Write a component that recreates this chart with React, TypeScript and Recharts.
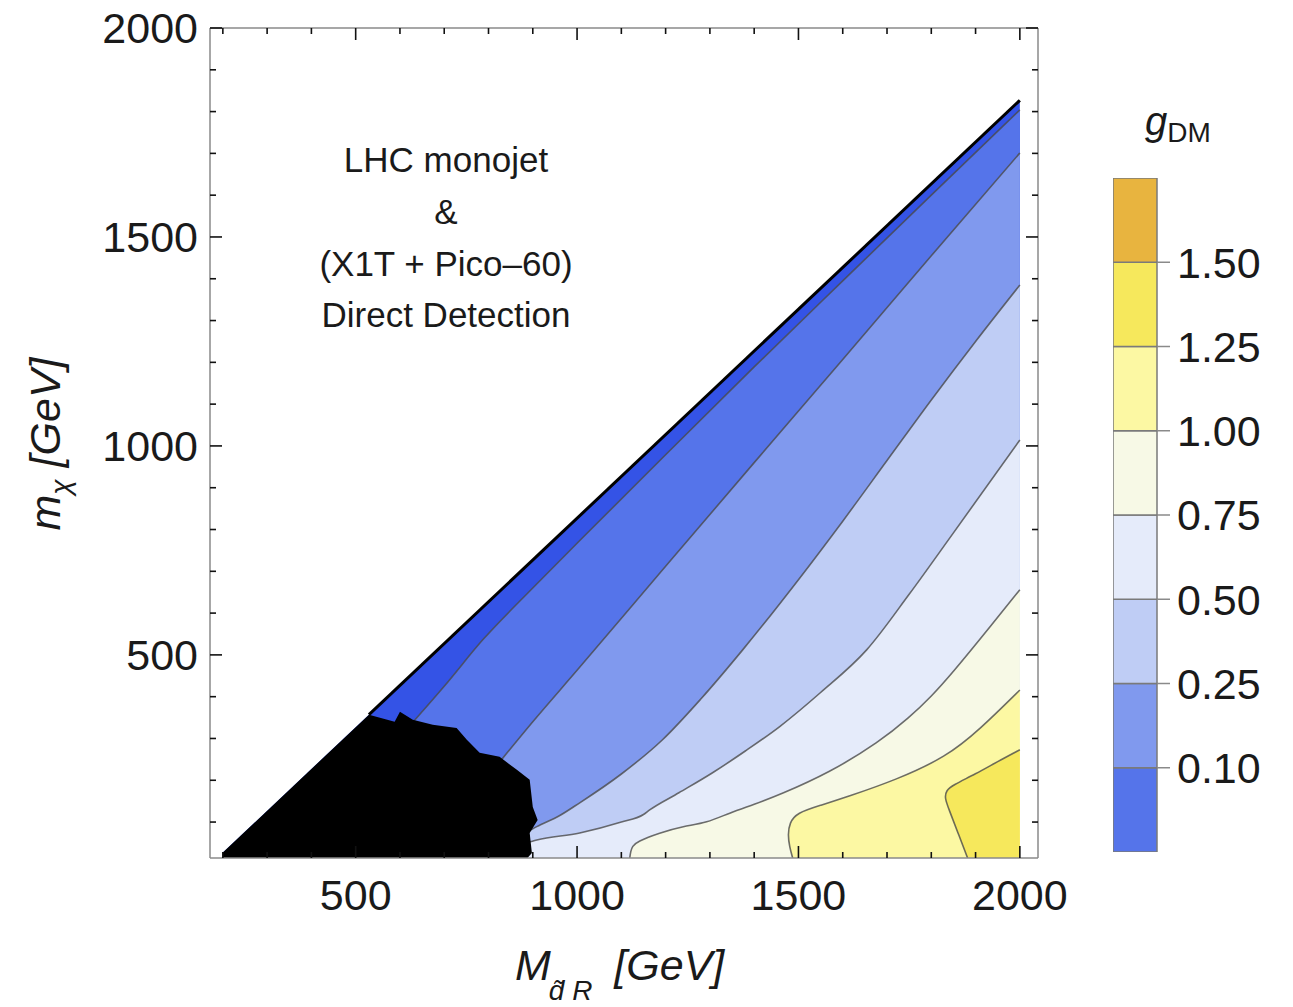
import React from "react";
import { ComposedChart, Area, Line, XAxis, YAxis, BarChart, Bar } from "recharts";

const FONT = "'Liberation Sans', Arial, Helvetica, sans-serif";

// x = M_dR [GeV], y = m_chi [GeV]; each contour as [M, m] pairs
const diagonal = [[200, 27], [2000, 1827]];
const diagonalEdge = [[530, 357], [2000, 1827]];
const excluded = [
  [200, 14], [200, 27], [530, 357], [588, 340], [600, 364], [629, 345], [674, 333],
  [728, 325], [751, 297], [780, 266], [825, 256], [864, 225], [893, 201], [900, 136],
  [911, 105], [893, 74], [898, 26], [888, 14],
];
const contour1 = [
  [630, 340], [700, 425], [787, 536], [900, 660], [1000, 767], [1200, 979],
  [1400, 1189], [1600, 1395], [1800, 1600], [2000, 1804],
];
const contour2 = [
  [830, 250], [900, 340], [1000, 463], [1200, 712], [1400, 960], [1600, 1207],
  [1800, 1455], [2000, 1701],
];
const contour3 = [
  [885, 75], [909, 89], [960, 115], [1006, 146], [1100, 215], [1193, 297], [1280, 395],
  [1374, 512], [1500, 680], [1600, 820], [1700, 965], [1800, 1110], [1900, 1250], [2000, 1385],
];
const contour4 = [
  [885, 50], [909, 57], [1006, 74], [1100, 100], [1150, 118], [1164, 129], [1230, 170],
  [1306, 218], [1380, 270], [1457, 328], [1550, 410], [1654, 512], [1750, 645],
  [1850, 792], [2000, 1014],
];
const contour5 = [
  [1119, 14], [1121, 30], [1125, 42], [1135, 53], [1186, 74], [1240, 90], [1293, 98], [1344, 122],
  [1400, 142], [1457, 165], [1570, 218], [1683, 292], [1750, 350], [1800, 400],
  [1850, 460], [1909, 536], [2000, 656],
];
const contour6 = [
  [1487, 14], [1480, 40], [1476, 70], [1480, 98], [1496, 122], [1550, 140], [1609, 160],
  [1721, 201], [1834, 256], [1909, 321], [2000, 416],
];
const contour7 = [
  [1882, 14], [1860, 75], [1840, 130], [1830, 158], [1834, 176], [1848, 188],
  [1900, 215], [1950, 245], [2000, 273],
];

const xTicks = [200, 300, 400, 500, 600, 700, 800, 900, 1000, 1100, 1200, 1300, 1400, 1500, 1600, 1700, 1800, 1900, 2000];
const yTicks = [100, 200, 300, 400, 500, 600, 700, 800, 900, 1000, 1100, 1200, 1300, 1400, 1500, 1600, 1700, 1800, 1900, 2000];
const majorTicks = [500, 1000, 1500, 2000];

const levelLabels = ["0.10", "0.25", "0.50", "0.75", "1.00", "1.25", "1.50"];
const levelColors = ["#5574ea", "#8099ee", "#bfcdf5", "#e5ebfa", "#f7f9e6", "#fcf8a3", "#f6e85c", "#e8b43f"];
const stripColor = "#3453e6";

const toRows = (pairs: number[][]) => pairs.map(([M, m]) => ({ M, m }));

const LINE = "#4a4a4a";
const regions = [
  { data: toRows(diagonal), fill: stripColor, stroke: "none", curve: "linear" },
  { data: toRows(contour1), fill: levelColors[0], stroke: LINE, curve: "monotoneX" },
  { data: toRows(contour2), fill: levelColors[1], stroke: LINE, curve: "monotoneX" },
  { data: toRows(contour3), fill: levelColors[2], stroke: LINE, curve: "monotoneX" },
  { data: toRows(contour4), fill: levelColors[3], stroke: LINE, curve: "monotoneX" },
  { data: toRows(contour5), fill: levelColors[4], stroke: LINE, curve: "basis" },
  { data: toRows(contour6), fill: levelColors[5], stroke: LINE, curve: "basis" },
  { data: toRows(contour7), fill: levelColors[6], stroke: LINE, curve: "basis" },
  { data: toRows(excluded), fill: "#000000", stroke: "none", curve: "linear" },
];

const colorbarRow = [{ name: "g", s0: 1, s1: 1, s2: 1, s3: 1, s4: 1, s5: 1, s6: 1, s7: 1 }];

const tickLen = (v: number) => (majorTicks.includes(v) ? 12 : 6);

const BottomTick = (props: any) => {
  const { x, y, payload } = props;
  const v = payload.value;
  return (
    <g>
      <line x1={x} x2={x} y1={y} y2={y - tickLen(v)} stroke="#111" strokeWidth={1.6} />
      {majorTicks.includes(v) && (
        <text x={x} y={y + 52} textAnchor="middle" fontSize={43} fill="#1a1a1a" fontFamily={FONT}>
          {v}
        </text>
      )}
    </g>
  );
};

const TopTick = (props: any) => {
  const { x, y, payload } = props;
  return <line x1={x} x2={x} y1={y} y2={y + tickLen(payload.value)} stroke="#111" strokeWidth={1.6} />;
};

const LeftTick = (props: any) => {
  const { x, y, payload } = props;
  const v = payload.value;
  return (
    <g>
      <line x1={x} x2={x + tickLen(v)} y1={y} y2={y} stroke="#111" strokeWidth={1.6} />
      {majorTicks.includes(v) && (
        <text x={x - 12} y={y + 15} textAnchor="end" fontSize={43} fill="#1a1a1a" fontFamily={FONT}>
          {v}
        </text>
      )}
    </g>
  );
};

const RightTick = (props: any) => {
  const { x, y, payload } = props;
  return <line x1={x} x2={x - tickLen(payload.value)} y1={y} y2={y} stroke="#111" strokeWidth={1.6} />;
};

const frame = { stroke: "#8a8a8a", strokeWidth: 1.5 };

export default function App() {
  return (
    <div style={{ position: "absolute", left: 0, top: 0, width: 1293, height: 1007, background: "#fff", fontFamily: FONT }}>
      <div style={{ position: "absolute", left: 0, top: 0 }}>
        <ComposedChart width={1090} height={1007} margin={{ top: 27, right: 51, bottom: 0, left: 0 }}>
          <XAxis dataKey="M" type="number" domain={[171, 2041]} allowDataOverflow ticks={xTicks} interval={0}
            tickSize={0} tickMargin={0} tickLine={false} tick={<BottomTick />} height={149} axisLine={frame} />
          <XAxis xAxisId="top" orientation="top" dataKey="M" type="number" domain={[171, 2041]} allowDataOverflow
            ticks={xTicks} interval={0} tickSize={0} tickMargin={0} tickLine={false} tick={<TopTick />} height={1} axisLine={frame} />
          <YAxis dataKey="m" type="number" domain={[14, 2000]} allowDataOverflow ticks={yTicks} interval={0}
            tickSize={0} tickMargin={0} tickLine={false} tick={<LeftTick />} width={210} axisLine={frame} />
          <YAxis yAxisId="right" orientation="right" dataKey="m" type="number" domain={[14, 2000]} allowDataOverflow
            ticks={yTicks} interval={0} tickSize={0} tickMargin={0} tickLine={false} tick={<RightTick />} width={1} axisLine={frame} />
          {regions.map((r, i) => (
            <Area key={i} data={r.data} dataKey="m" type={r.curve as any} fill={r.fill} fillOpacity={1}
              stroke={r.stroke} strokeWidth={1.6} strokeOpacity={0.8} dot={false} activeDot={false}
              isAnimationActive={false} />
          ))}
          <Line data={toRows(diagonalEdge)} dataKey="m" type="linear" stroke="#000" strokeWidth={3}
            dot={false} activeDot={false} isAnimationActive={false} />
          {/* invisible series so the top and right frame axes are registered */}
          <Line xAxisId="top" yAxisId="right" data={toRows(diagonalEdge)} dataKey="m" stroke="none"
            dot={false} activeDot={false} isAnimationActive={false} />
        </ComposedChart>
      </div>

      <div style={{ position: "absolute", left: 1113, top: 178 }}>
        <BarChart width={180} height={674} data={colorbarRow} margin={{ top: 0, right: 0, bottom: 0, left: 0 }}
          barCategoryGap={0} barGap={0}>
          <XAxis dataKey="name" hide />
          <YAxis orientation="right" type="number" domain={[0, 8]} ticks={[1, 2, 3, 4, 5, 6, 7]} interval={0}
            width={136} axisLine={false} tickSize={13} tickMargin={7}
            tickLine={{ stroke: "#8a8a8a", strokeWidth: 1.5 }}
            tickFormatter={(v: number) => levelLabels[v - 1]}
            tick={{ fontSize: 43, fill: "#1a1a1a", fontFamily: FONT }} />
          {levelColors.map((c, i) => (
            <Bar key={i} dataKey={`s${i}`} stackId="cb" fill={c} stroke="#7a7a7a" strokeWidth={1.5}
              isAnimationActive={false} />
          ))}
        </BarChart>
      </div>

      <svg width={1293} height={1007} style={{ position: "absolute", left: 0, top: 0, pointerEvents: "none" }}
        fontFamily={FONT} fill="#1a1a1a">
        <g fontSize={35} textAnchor="middle">
          <text x={446} y={172}>LHC monojet</text>
          <text x={446} y={224}>&amp;</text>
          <text x={446} y={276}>(X1T + Pico–60)</text>
          <text x={446} y={327}>Direct Detection</text>
        </g>
        <text x={515} y={980} fontSize={43} fontStyle="italic">
          <tspan>M</tspan>
          <tspan fontSize={28} dy={20} dx={-2}>{"d\u0303 R"}</tspan>
          <tspan dy={-20} dx={10}>{" [GeV]"}</tspan>
        </text>
        <g transform="translate(60,444) rotate(-90)">
          <text x={0} y={0} fontSize={43} textAnchor="middle" fontStyle="italic">
            <tspan>m</tspan>
            <tspan fontSize={28} dy={10}>χ</tspan>
            <tspan dy={-10}> [GeV]</tspan>
          </text>
        </g>
        <text x={1145} y={135} fontSize={40} fontStyle="italic">
          <tspan>g</tspan>
          <tspan fontSize={28} fontStyle="normal" dy={7}>DM</tspan>
        </text>
      </svg>
    </div>
  );
}
